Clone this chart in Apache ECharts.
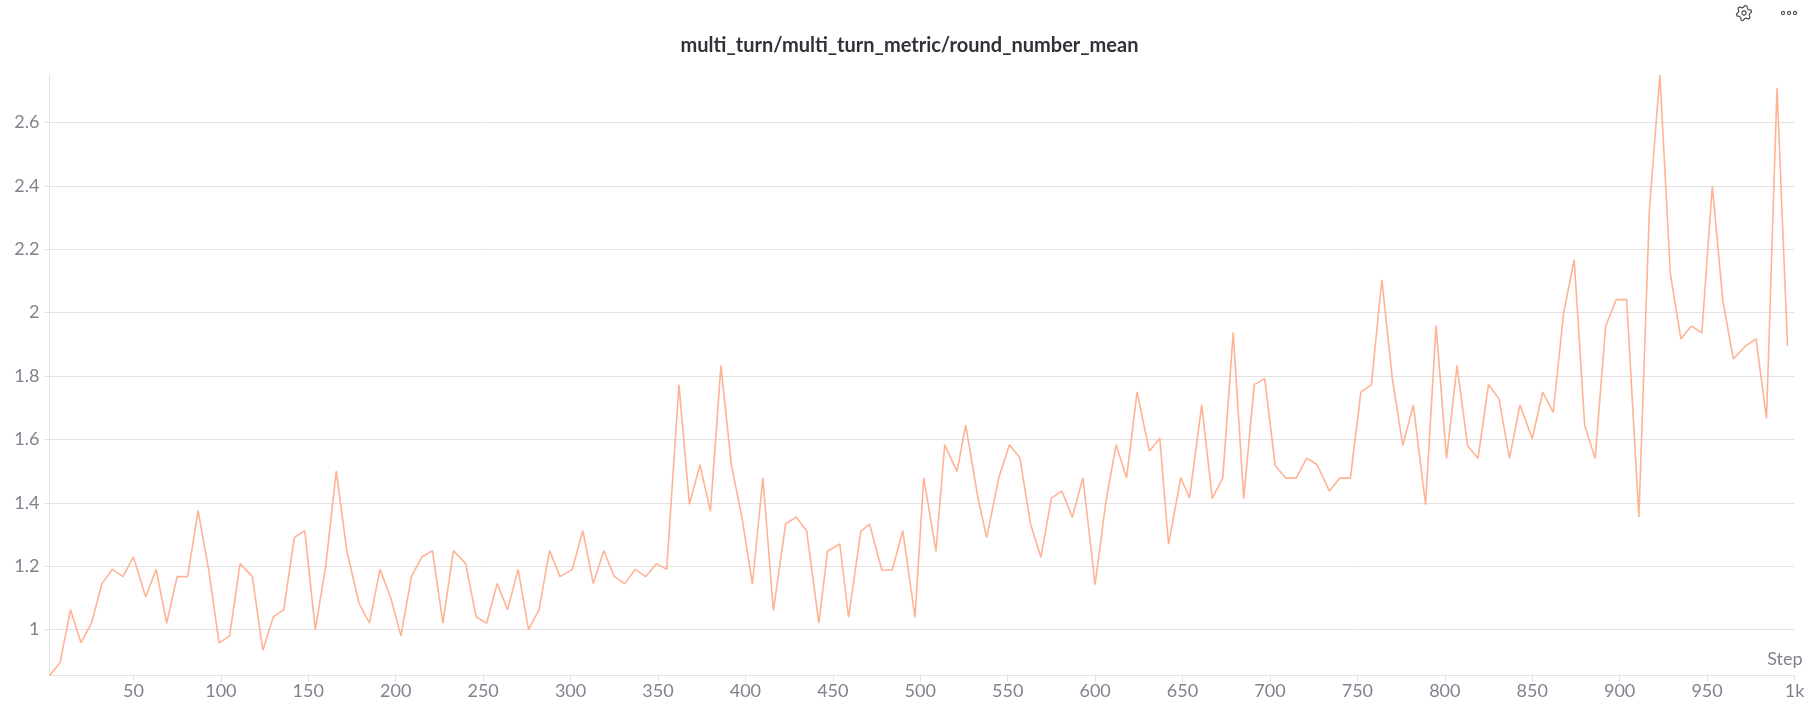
<!DOCTYPE html>
<html>
<head>
<meta charset="utf-8">
<style>
  html, body { margin: 0; padding: 0; background: #fff; }
  #chart { width: 1819px; height: 714px; }
</style>
<script src="https://cdn.jsdelivr.net/npm/echarts@6/dist/echarts.min.js"></script>
</head>
<body>
<div id="chart"></div>
<script>
const steps = [
  2, 8, 14, 20, 26, 32, 38, 44, 50, 57, 63, 69, 75, 81, 87, 93, 99, 105, 111, 118,
  124, 130, 136, 142, 148, 154, 160, 166, 172, 179, 185, 191, 197, 203, 209, 215, 221, 227, 233, 240,
  246, 252, 258, 264, 270, 276, 282, 288, 294, 301, 307, 313, 319, 325, 331, 337, 343, 349, 355, 362,
  368, 374, 380, 386, 392, 398, 404, 410, 416, 423, 429, 435, 442, 447, 454, 459, 466, 471, 478, 484,
  490, 497, 502, 509, 514, 521, 526, 533, 538, 545, 551, 557, 563, 569, 575, 581, 587, 593, 600, 606,
  612, 618, 624, 631, 637, 642, 649, 654, 661, 667, 673, 679, 685, 691, 697, 703, 709, 715, 721, 727,
  734, 740, 746, 752, 758, 764, 770, 776, 782, 789, 795, 801, 807, 813, 819, 825, 831, 837, 843, 850,
  856, 862, 868, 874, 880, 886, 892, 898, 904, 911, 917, 923, 929, 935, 941, 947, 953, 959, 965, 972,
  978, 984, 990, 996
];
const roundNumberMean = [
  0.855, 0.895, 1.063, 0.958, 1.02, 1.145, 1.19, 1.167, 1.229, 1.103, 1.19, 1.02, 1.167, 1.167, 1.375, 1.19, 0.958, 0.98, 1.208, 1.167,
  0.935, 1.04, 1.063, 1.29, 1.312, 1.0, 1.2, 1.5, 1.25, 1.083, 1.02, 1.19, 1.103, 0.98, 1.167, 1.229, 1.249, 1.02, 1.249, 1.208,
  1.04, 1.02, 1.145, 1.063, 1.19, 1.0, 1.063, 1.249, 1.167, 1.19, 1.312, 1.145, 1.249, 1.167, 1.145, 1.19, 1.167, 1.208, 1.19, 1.773,
  1.395, 1.52, 1.373, 1.833, 1.518, 1.355, 1.143, 1.479, 1.06, 1.333, 1.355, 1.312, 1.02, 1.248, 1.27, 1.038, 1.31, 1.333, 1.188, 1.188,
  1.312, 1.038, 1.479, 1.247, 1.583, 1.499, 1.645, 1.415, 1.29, 1.481, 1.583, 1.542, 1.335, 1.228, 1.415, 1.437, 1.354, 1.479, 1.142, 1.397,
  1.583, 1.478, 1.75, 1.563, 1.604, 1.269, 1.479, 1.415, 1.709, 1.414, 1.478, 1.937, 1.413, 1.773, 1.792, 1.518, 1.478, 1.478, 1.541, 1.52,
  1.437, 1.478, 1.478, 1.749, 1.772, 2.104, 1.792, 1.581, 1.709, 1.394, 1.959, 1.54, 1.833, 1.581, 1.54, 1.773, 1.728, 1.54, 1.709, 1.602,
  1.749, 1.685, 2.0, 2.167, 1.645, 1.54, 1.958, 2.041, 2.041, 1.355, 2.323, 2.75, 2.123, 1.917, 1.958, 1.936, 2.399, 2.039, 1.854, 1.895,
  1.917, 1.666, 2.71, 1.895
];
const xTicks = [50, 100, 150, 200, 250, 300, 350, 400, 450, 500, 550, 600, 650, 700, 750, 800, 850, 900, 950, 1000];
const yTicks = [1, 1.2, 1.4, 1.6, 1.8, 2, 2.2, 2.4, 2.6];

const fontFamily = 'Lato, "Noto Sans", sans-serif';
const labelColor = '#80838f';
const lineColor = '#e1e2e4';
const iconColor = '#4a4e5a';

const chart = echarts.init(document.getElementById('chart'), null, { renderer: 'canvas' });

// settings icon outline, six rounded teeth
const gearPoints = [];
for (let i = 0; i < 24; i++) {
  const a = (i + 0.5) * Math.PI / 12 - Math.PI / 2;
  const r = i % 4 < 2 ? 7.6 : 5.6;
  gearPoints.push([1744 + r * Math.cos(a), 13 + r * Math.sin(a)]);
}

const dot = (cx) => ({
  type: 'circle',
  shape: { cx, cy: 13, r: 1.6 },
  style: { fill: 'none', stroke: iconColor, lineWidth: 1.1 }
});

chart.setOption({
  animation: false,
  backgroundColor: '#fff',
  title: {
    text: 'multi_turn/multi_turn_metric/round_number_mean',
    left: 904.5,
    top: 31,
    textAlign: 'center',
    textStyle: { fontFamily, fontSize: 20, fontWeight: 700, color: '#2f3238' }
  },
  grid: { left: 49.5, right: 24.5, top: 75, bottom: 38.5, containLabel: false },
  xAxis: {
    type: 'value',
    min: 2,
    max: 1000,
    name: 'Step',
    nameLocation: 'end',
    nameGap: 8,
    nameTextStyle: {
      fontFamily, fontSize: 18, color: labelColor,
      align: 'right', verticalAlign: 'bottom', padding: [0, 0, 7, 0]
    },
    axisLine: { lineStyle: { color: lineColor, width: 1 } },
    axisTick: { length: 6, lineStyle: { color: lineColor }, customValues: xTicks },
    axisLabel: {
      fontFamily, fontSize: 18, color: labelColor, margin: 7,
      customValues: xTicks,
      formatter: (v) => (v === 1000 ? '1k' : String(v))
    },
    splitLine: { show: false }
  },
  yAxis: {
    type: 'value',
    min: 0.855,
    max: 2.75,
    axisLine: { show: true, lineStyle: { color: lineColor, width: 1 } },
    axisTick: { show: true, length: 5, lineStyle: { color: lineColor }, customValues: yTicks },
    axisLabel: {
      fontFamily, fontSize: 18, color: labelColor, margin: 10,
      customValues: yTicks,
      formatter: (v) => String(Math.round(v * 10) / 10)
    },
    splitLine: { show: true, lineStyle: { color: lineColor, width: 1 } }
  },
  series: [{
    type: 'line',
    data: steps.map((s, i) => [s, roundNumberMean[i]]),
    showSymbol: false,
    symbol: 'none',
    smooth: false,
    lineStyle: { color: '#ffb393', width: 1.6 }
  }],
  graphic: [
    {
      type: 'polygon',
      shape: { points: gearPoints },
      style: { fill: 'none', stroke: iconColor, lineWidth: 1.2 }
    },
    {
      type: 'circle',
      shape: { cx: 1744, cy: 13, r: 2.1 },
      style: { fill: 'none', stroke: iconColor, lineWidth: 1.1 }
    },
    dot(1783), dot(1789), dot(1795)
  ]
});

window.addEventListener('resize', () => chart.resize());
</script>
</body>
</html>
